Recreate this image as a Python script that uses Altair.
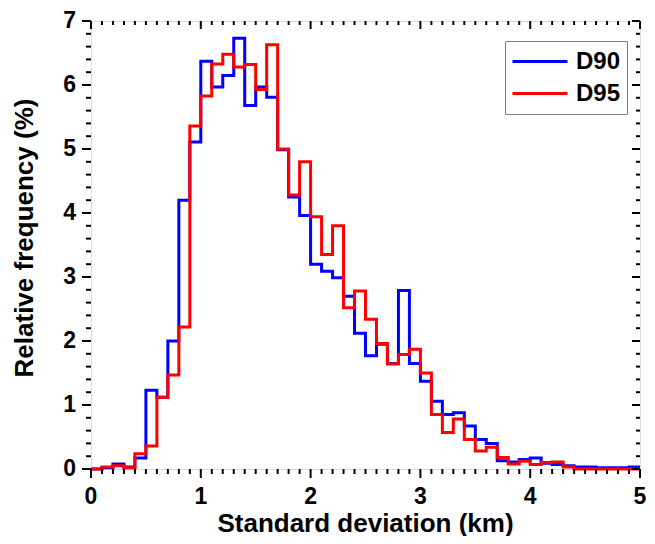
import altair as alt
import pandas as pd

# Bin starts (km), bin width 0.1
bin_starts = [round(i * 0.1, 1) for i in range(50)]

d90 = [0.00, 0.02, 0.08, 0.03, 0.17, 1.23, 1.12, 2.00, 4.20, 5.11,
       6.37, 5.97, 6.15, 6.73, 5.68, 5.97, 5.81, 4.99, 4.25, 3.96,
       3.20, 3.09, 2.99, 2.70, 2.12, 1.77, 1.95, 1.65, 2.79, 1.65,
       1.37, 1.06, 0.85, 0.88, 0.67, 0.46, 0.40, 0.13, 0.11, 0.15,
       0.17, 0.09, 0.07, 0.05, 0.03, 0.03, 0.02, 0.02, 0.02, 0.03]

d95 = [0.00, 0.03, 0.05, 0.02, 0.24, 0.36, 1.12, 1.47, 2.22, 5.36,
       5.83, 6.33, 6.48, 6.28, 6.32, 5.93, 6.63, 5.00, 4.28, 4.80,
       3.94, 3.35, 3.80, 2.52, 2.78, 2.34, 1.96, 1.64, 1.79, 1.87,
       1.50, 0.85, 0.57, 0.78, 0.46, 0.28, 0.34, 0.18, 0.08, 0.12,
       0.07, 0.10, 0.11, 0.03, 0.00, 0.00, 0.00, 0.00, 0.00, 0.00]

series_names = ["D90", "D95"]
series_colors = ["#0000ff", "#ff0000"]
x_major = [0, 1, 2, 3, 4, 5]
x_minor = [round(i * 0.1, 1) for i in range(51) if i % 10 != 0]
y_major = [0, 1, 2, 3, 4, 5, 6, 7]
y_minor = [round(i * 0.2, 1) for i in range(36) if i % 5 != 0]
x_title = "Standard deviation (km)"
y_title = "Relative frequency (%)"

rows = []
for name, vals in zip(series_names, [d90, d95]):
    for xs, v in zip(bin_starts, vals):
        rows.append({"x": xs, "y": v, "series": name})
    rows.append({"x": 5.0, "y": vals[-1], "series": name})
df = pd.DataFrame(rows)

W, H = 549, 448
FONT = "Liberation Sans"

xscale = alt.Scale(domain=[0, 5], nice=False, zero=False)
yscale = alt.Scale(domain=[0, 7], nice=False)

lines = alt.Chart(df).mark_line(interpolate="step-after", strokeWidth=3).encode(
    x=alt.X("x:Q", scale=xscale, axis=None),
    y=alt.Y("y:Q", scale=yscale, axis=None),
    color=alt.Color("series:N", scale=alt.Scale(domain=series_names, range=series_colors),
                    legend=alt.Legend(orient="none", legendX=414, legendY=20, title=None,
                                      symbolType="stroke", symbolSize=3025,
                                      symbolStrokeWidth=3, clipHeight=29, rowPadding=3,
                                      labelFontSize=24, labelFontWeight="bold",
                                      labelFont=FONT, labelColor="black", labelOffset=7,
                                      padding=6, strokeColor="#808080", fillColor="white")),
)


# tick marks drawn as small bars (bottom/left outward, top/right inward)
def xticks(vals, center, length):
    return alt.Chart(pd.DataFrame({"t": vals})).mark_tick(
        orient="vertical", size=length, thickness=2, color="black", opacity=1).encode(
        x=alt.X("t:Q", scale=xscale, axis=None),
        y=alt.value(center))


def yticks(vals, center, length):
    return alt.Chart(pd.DataFrame({"t": vals})).mark_tick(
        orient="horizontal", size=length, thickness=2, color="black", opacity=1).encode(
        y=alt.Y("t:Q", scale=yscale, axis=None),
        x=alt.value(center))


tick_layers = [
    xticks(x_major, H + 4.5, 9), xticks(x_minor, H + 2.5, 5),
    xticks(x_major, 4, 8), xticks(x_minor, 2, 4),
    yticks(y_major, -4.5, 9), yticks(y_minor, -2.5, 5),
    yticks(y_major, W - 4, 8), yticks(y_minor, W - 2, 4),
]

# tick labels
x_labels = alt.Chart(pd.DataFrame({"t": x_major, "lab": [str(v) for v in x_major]})).mark_text(
    font=FONT, fontSize=23, fontWeight="bold", color="black",
    align="center", baseline="alphabetic").encode(
    x=alt.X("t:Q", scale=xscale, axis=None), y=alt.value(H + 35), text="lab:N")

y_labels = alt.Chart(pd.DataFrame({"t": y_major, "lab": [str(v) for v in y_major]})).mark_text(
    font=FONT, fontSize=23, fontWeight="bold", color="black",
    align="right", baseline="middle").encode(
    y=alt.Y("t:Q", scale=yscale, axis=None), x=alt.value(-15), text="lab:N")

# axis titles
x_title_layer = alt.Chart(pd.DataFrame({"lab": [x_title]})).mark_text(
    font=FONT, fontSize=26, fontWeight="bold", color="black",
    align="center", baseline="alphabetic").encode(
    x=alt.value(W / 2), y=alt.value(H + 63), text="lab:N")

y_title_layer = alt.Chart(pd.DataFrame({"lab": [y_title]})).mark_text(
    font=FONT, fontSize=26, fontWeight="bold", color="black", angle=270,
    align="center", baseline="alphabetic").encode(
    x=alt.value(-58), y=alt.value(217), text="lab:N")

chart = alt.layer(lines, *tick_layers, x_labels, y_labels, x_title_layer, y_title_layer).properties(
    width=W, height=H,
    padding={"left": 83, "top": 13, "right": 7, "bottom": 67},
    autosize=alt.AutoSizeParams(type="none"),
).configure_view(stroke="black", strokeWidth=2).configure(background="white")

chart.save("out.html", embed_options={"renderer": "svg", "actions": False})
